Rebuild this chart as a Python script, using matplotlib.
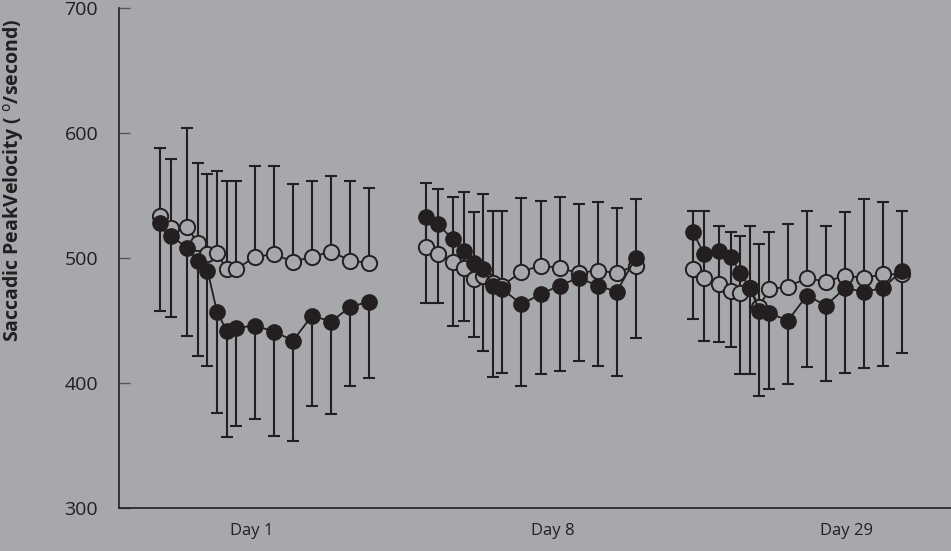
import matplotlib
matplotlib.use("Agg")
import matplotlib.pyplot as plt
import numpy as np

# ---- data ----
days = ["Day 1", "Day 8", "Day 29"]
day_offsets = [0, 14, 28]
day_label_pos = [4.8, 20.65, 36.1]
times = [0, 0.6, 1.4, 2, 2.5, 3, 3.5, 4, 5, 6, 7, 8, 9, 10, 11]

# open circles (mean) and upper end of error bar
open_mean = [
    [534, 524, 525, 512, 503, 504, 491, 491, 501, 503, 497, 501, 505, 498, 496],
    [509, 503, 497, 492, 483, 486, 480, 478, 489, 494, 492, 488, 490, 488, 494],
    [491, 484, 479, 474, 472, 476, 461, 475, 477, 484, 481, 486, 484, 487, 487],
]
open_upper = [
    [588, 579, 604, 576, 567, 570, 562, 562, 574, 574, 559, 562, 566, 562, 556],
    [560, 555, 549, 553, 537, 551, 538, 538, 548, 546, 549, 543, 545, 540, 547],
    [538, 538, 526, 521, 518, 526, 511, 521, 527, 538, 526, 537, 547, 545, 538],
]
# filled circles (mean) and lower end of error bar
filled_mean = [
    [528, 518, 508, 498, 490, 457, 442, 444, 446, 441, 434, 454, 449, 461, 465],
    [533, 527, 515, 506, 496, 491, 478, 475, 463, 471, 478, 484, 478, 473, 500],
    [521, 503, 506, 501, 488, 476, 458, 456, 450, 470, 462, 476, 473, 476, 490],
]
filled_lower = [
    [458, 453, 438, 422, 414, 376, 357, 366, 371, 358, 354, 382, 375, 398, 404],
    [464, 464, 446, 450, 437, 426, 405, 408, 398, 407, 410, 418, 414, 406, 436],
    [451, 434, 433, 429, 407, 407, 390, 395, 399, 413, 402, 408, 412, 414, 424],
]

yticks = [300, 400, 500, 600, 700]

BG = "#a7a8ac"
INK = "#231f20"

plt.rcParams["font.family"] = ["Open Sans", "DejaVu Sans"]

fig = plt.figure(figsize=(9.51, 5.51), dpi=100, facecolor=BG)
ax = fig.add_axes([119 / 951, 1 - 508 / 551, 1 - 119 / 951, 500 / 551])
ax.set_facecolor(BG)

for g in range(3):
    x = np.array(times) + day_offsets[g]
    om = np.array(open_mean[g]); ou = np.array(open_upper[g])
    fm = np.array(filled_mean[g]); fl = np.array(filled_lower[g])
    ax.errorbar(x, om, yerr=[np.zeros_like(om), ou - om], fmt="none",
                ecolor=INK, elinewidth=1.5, capsize=4.5, capthick=1.5, zorder=2)
    ax.errorbar(x, fm, yerr=[fm - fl, np.zeros_like(fm)], fmt="none",
                ecolor=INK, elinewidth=1.5, capsize=4.5, capthick=1.5, zorder=2)
    ax.plot(x, om, "-o", color=INK, lw=1.3, ms=11, mfc=BG, mec=INK, mew=1.4, zorder=3)
    ax.plot(x, fm, "-o", color=INK, lw=1.3, ms=11, mfc=INK, mec=INK, zorder=4)

ax.set_xlim(-2.15, 41.57)
ax.set_ylim(300, 700)
ax.set_yticks(yticks)
ax.set_xticks(day_label_pos)
ax.set_xticklabels(days)

for s in ["top", "right"]:
    ax.spines[s].set_visible(False)
for s in ["left", "bottom"]:
    ax.spines[s].set_color(INK)
    ax.spines[s].set_linewidth(1.2)

ax.tick_params(axis="y", direction="in", length=8, width=1, color="#555555",
               pad=15, labelsize=14, labelcolor=INK)
ax.tick_params(axis="x", length=0, pad=11, labelsize=12, labelcolor=INK)

fig.text(14 / 951, 1 - 180 / 551, r"Saccadic PeakVelocity ( $^{\mathrm{o}}$/second)",
         rotation=90, ha="center", va="center", fontsize=14, fontweight="bold", color=INK)

fig.savefig("out.png", dpi=100, facecolor=BG)
